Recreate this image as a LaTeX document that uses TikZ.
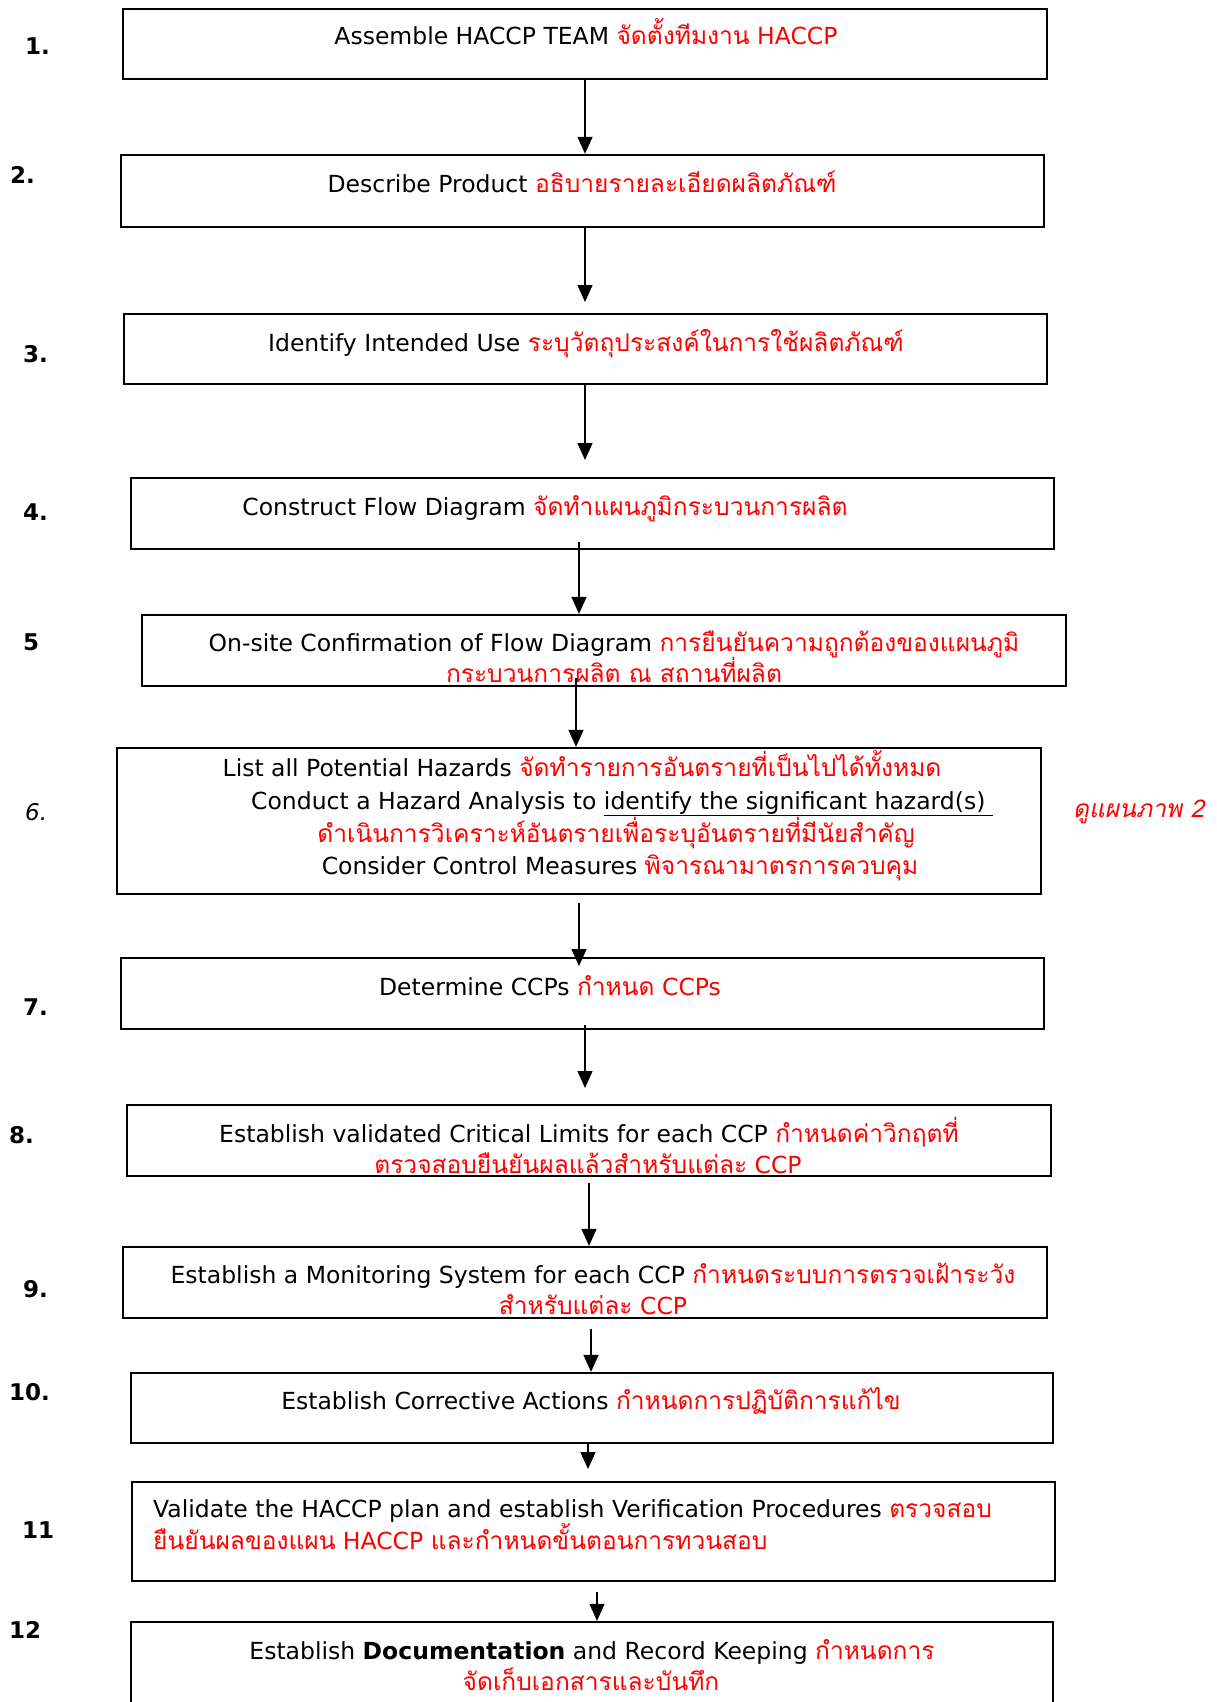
\documentclass[tikz,border=0pt]{standalone}
\usepackage{fontspec}
\setmainfont{DejaVu Sans}
\newfontfamily\thaifont[Script=Thai,Scale=1.045]{Loma}
\newfontfamily\thaiit[Script=Thai,Scale=1.045,FakeSlant=0.2]{Loma}
\usetikzlibrary{arrows.meta}
\newcommand{\thr}[1]{\textcolor{red}{\thaifont #1}}
\newcommand{\rd}[1]{\textcolor{red}{#1}}
\tikzset{
  box/.style={draw, line width=2.3pt, inner sep=0pt, rectangle},
  txt/.style={anchor=base, inner sep=0pt, font=\fontsize{23.5}{28}\selectfont},
  txtl/.style={txt, anchor=base west},
  num/.style={anchor=base west, inner sep=0pt, font=\fontsize{23}{28}\selectfont\bfseries},
  arr/.style={line width=1.4pt, -{Triangle[length=17pt,width=15pt]}},
}
\begin{document}
\begin{tikzpicture}[x=1pt,y=-1pt]
\useasboundingbox (0,0) rectangle (1216,1702);
\clip (0,0) rectangle (1216,1702);
% boxes
\node[box, minimum width=924pt, minimum height=70pt] (b1) at (585,44) {};
\node[box, minimum width=923pt, minimum height=72pt] (b2) at (582.5,191) {};
\node[box, minimum width=923pt, minimum height=70pt] (b3) at (585.5,349) {};
\node[box, minimum width=923pt, minimum height=71pt] (b4) at (592.5,513.5) {};
\node[box, minimum width=924pt, minimum height=71pt] (b5) at (604,650.5) {};
\node[box, minimum width=924pt, minimum height=146pt] (b6) at (579,821) {};
\node[box, minimum width=923pt, minimum height=71pt] (b7) at (582.5,993.5) {};
\node[box, minimum width=924pt, minimum height=71pt] (b8) at (589,1140.5) {};
\node[box, minimum width=924pt, minimum height=71pt] (b9) at (585,1282.5) {};
\node[box, minimum width=922pt, minimum height=70pt] (b10) at (592,1408) {};
\node[box, minimum width=923pt, minimum height=99pt] (b11) at (593.5,1531.5) {};
\node[box, minimum width=922pt, minimum height=96pt] (b12) at (592,1670) {};
% texts
\node[txt] (t1) at (586,45) {Assemble HACCP TEAM \thr{จัดตั้งทีมงาน} \rd{HACCP}};
\node[txt] (t2) at (582,192) {Describe Product \thr{อธิบายรายละเอียดผลิตภัณฑ์}};
\node[txt] (t3) at (586,351) {Identify Intended Use \thr{ระบุวัตถุประสงค์ในการใช้ผลิตภัณฑ์}};
\node[txt] (t4) at (545,515) {Construct Flow Diagram \thr{จัดทำแผนภูมิกระบวนการผลิต}};
\node[txt] (t5a) at (614,651) {On-site Confirmation of Flow Diagram \thr{การยืนยันความถูกต้องของแผนภูมิ}};
\node[txt] (t5b) at (614,682) {\thr{กระบวนการผลิต ณ สถานที่ผลิต}};
\node[txt] (t6a) at (582,776) {List all Potential Hazards \thr{จัดทำรายการอันตรายที่เป็นไปได้ทั้งหมด}};
\node[txt] (t6b) at (622,809) {Conduct a Hazard Analysis to \underline{identify the significant hazard(s)\ }};
\node[txt] (t6c) at (616,842) {\thr{ดำเนินการวิเคราะห์อันตรายเพื่อระบุอันตรายที่มีนัยสำคัญ}};
\node[txt] (t6d) at (620,874) {Consider Control Measures \thr{พิจารณามาตรการควบคุม}};
\node[txt] (t7) at (550,995) {Determine CCPs \thr{กำหนด} \rd{CCPs}};
\node[txt] (t8a) at (589,1142) {Establish validated Critical Limits for each CCP \thr{กำหนดค่าวิกฤตที่}};
\node[txt] (t8b) at (588,1173) {\thr{ตรวจสอบยืนยันผลแล้วสำหรับแต่ละ} \rd{CCP}};
\node[txt] (t9a) at (593,1283) {Establish a Monitoring System for each CCP \thr{กำหนดระบบการตรวจเฝ้าระวัง}};
\node[txt] (t9b) at (593,1314) {\thr{สำหรับแต่ละ} \rd{CCP}};
\node[txt] (t10) at (591,1409) {Establish Corrective Actions \thr{กำหนดการปฏิบัติการแก้ไข}};
\node[txtl] (t11a) at (153,1517) {Validate the HACCP plan and establish Verification Procedures \thr{ตรวจสอบ}};
\node[txtl] (t11b) at (153,1549) {\thr{ยืนยันผลของแผน} \rd{HACCP} \thr{และกำหนดขั้นตอนการทวนสอบ}};
\node[txt] (t12a) at (592,1659) {Establish \textbf{Documentation} and Record Keeping \thr{กำหนดการ}};
\node[txt] (t12b) at (591,1690) {\thr{จัดเก็บเอกสารและบันทึก}};
% side note
\node[anchor=base west, inner sep=0pt, font=\fontsize{23.5}{28}\selectfont] (side) at (1073,817) {\textcolor{red}{\thaiit ดูแผนภาพ 2}};
% numbers
\node[num] (n1) at (25,55) {1.};
\node[num] (n2) at (10,183) {2.};
\node[num] (n3) at (23,362) {3.};
\node[num] (n4) at (23,520) {4.};
\node[num] (n5) at (23,650) {5};
\node[anchor=base west, inner sep=0pt, font=\fontsize{23}{28}\selectfont\itshape] (n6) at (25,820) {6.};
\node[num] (n7) at (23,1015) {7.};
\node[num] (n8) at (9,1143) {8.};
\node[num] (n9) at (23,1297) {9.};
\node[num] (n10) at (9,1400) {10.};
\node[num] (n11) at (22,1538) {11};
\node[num] (n12) at (9,1638) {12};
% arrow coordinates
\coordinate (x1) at (585,0);
\coordinate (e2) at (585,302);
\coordinate (e3) at (585,460);
\coordinate (s4) at (579,542);
\coordinate (s5) at (576,678);
\coordinate (s6) at (579,903);
\coordinate (e6) at (579,966);
\coordinate (s7) at (585,1025);
\coordinate (e7) at (585,1088);
\coordinate (s8) at (589,1183);
\coordinate (s9) at (591,1329);
\coordinate (e10) at (588,1469);
\coordinate (s11) at (597,1592);
% arrows
\draw[arr] (x1 |- b1.south) -- (x1 |- b2.north);
\draw[arr] (e2 |- b2.south) -- (e2);
\draw[arr] (e3 |- b3.south) -- (e3);
\draw[arr] (s4) -- (s4 |- b5.north);
\draw[arr] (s5) -- (s5 |- b6.north);
\draw[arr] (s6) -- (e6);
\draw[arr] (s7) -- (e7);
\draw[arr] (s8) -- (s8 |- b9.north);
\draw[arr] (s9) -- (s9 |- b10.north);
\draw[arr] (e10 |- b10.south) -- (e10);
\draw[arr] (s11) -- (s11 |- b12.north);
\end{tikzpicture}
\end{document}
